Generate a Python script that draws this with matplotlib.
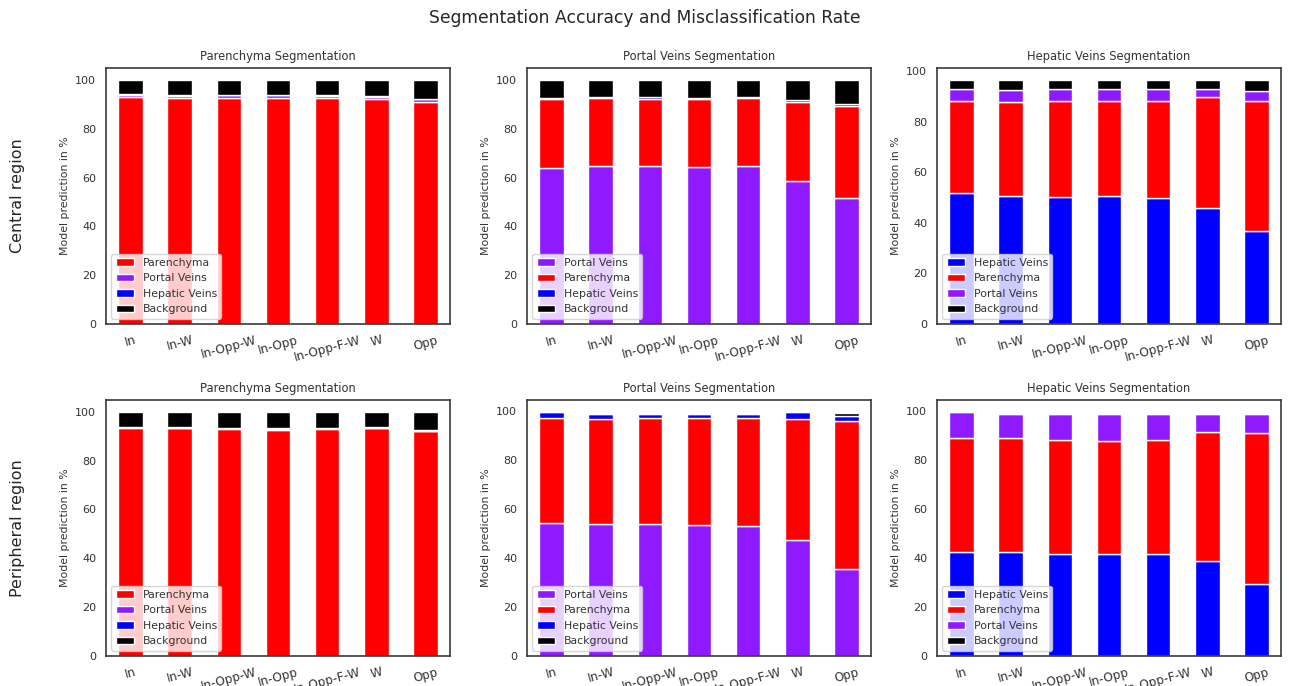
import matplotlib
matplotlib.use("Agg")
import matplotlib.pyplot as plt
import seaborn as sns
import pandas as pd

sns.set_style("white")

categories = ["In", "In-W", "In-Opp-W", "In-Opp", "In-Opp-F-W", "W", "Opp"]

# central region
c_par_par = [93.0, 92.6, 92.6, 92.6, 92.6, 92.2, 91.1]
c_par_pv = [1.0, 1.0, 1.2, 1.2, 1.0, 1.0, 1.0]
c_par_hv = [0.4, 0.3, 0.3, 0.3, 0.3, 0.5, 0.3]
c_par_bg = [5.6, 6.1, 5.9, 5.9, 6.1, 6.3, 7.6]

c_pv_pv = [64.0, 65.0, 65.0, 64.5, 64.8, 58.5, 51.5]
c_pv_par = [28.2, 27.8, 27.4, 27.7, 27.8, 32.6, 37.9]
c_pv_hv = [0.6, 0.4, 0.6, 0.5, 0.6, 0.6, 0.7]
c_pv_bg = [7.2, 6.8, 7.0, 7.3, 6.8, 8.3, 9.9]

c_hv_hv = [52.0, 50.5, 50.3, 50.8, 50.0, 45.8, 36.8]
c_hv_par = [36.2, 37.3, 37.8, 37.3, 38.4, 44.2, 51.6]
c_hv_pv = [4.9, 4.9, 5.0, 5.0, 4.7, 3.1, 3.9]
c_hv_bg = [3.4, 3.8, 3.4, 3.4, 3.4, 3.4, 4.2]

# peripheral region
p_par_par = [93.2, 93.2, 93.0, 92.7, 93.0, 93.2, 91.9]
p_par_pv = [0.4, 0.3, 0.3, 0.4, 0.3, 0.3, 0.3]
p_par_hv = [0.2, 0.2, 0.2, 0.2, 0.2, 0.2, 0.2]
p_par_bg = [6.0, 6.1, 6.3, 6.5, 6.3, 6.1, 7.4]

p_pv_pv = [54.5, 54.0, 53.8, 53.5, 53.3, 47.3, 35.5]
p_pv_par = [42.8, 43.0, 43.5, 43.6, 44.0, 49.6, 60.5]
p_pv_hv = [2.2, 2.0, 1.7, 1.9, 1.7, 2.6, 2.1]
p_pv_bg = [0.1, 0.1, 0.1, 0.1, 0.1, 0.1, 1.3]

p_hv_hv = [42.5, 42.5, 41.8, 41.5, 41.8, 39.0, 29.5]
p_hv_par = [46.4, 46.4, 46.6, 46.3, 46.6, 52.5, 61.6]
p_hv_pv = [10.6, 10.1, 10.6, 11.2, 10.6, 7.5, 7.7]
p_hv_bg = [0.1, 0.1, 0.1, 0.1, 0.1, 0.1, 0.6]

RED = "#ff0000"
PURPLE = "#8f1aff"
BLUE = "#0000ff"
BLACK = "#000000"


def make_df(cols):
    return pd.DataFrame(dict(cols), index=categories)


panels = [
    ("Parenchyma Segmentation", make_df([("Parenchyma", c_par_par), ("Portal Veins", c_par_pv),
                                         ("Hepatic Veins", c_par_hv), ("Background", c_par_bg)]),
     [RED, PURPLE, BLUE, BLACK]),
    ("Portal Veins Segmentation", make_df([("Portal Veins", c_pv_pv), ("Parenchyma", c_pv_par),
                                           ("Hepatic Veins", c_pv_hv), ("Background", c_pv_bg)]),
     [PURPLE, RED, BLUE, BLACK]),
    ("Hepatic Veins Segmentation", make_df([("Hepatic Veins", c_hv_hv), ("Parenchyma", c_hv_par),
                                            ("Portal Veins", c_hv_pv), ("Background", c_hv_bg)]),
     [BLUE, RED, PURPLE, BLACK]),
    ("Parenchyma Segmentation", make_df([("Parenchyma", p_par_par), ("Portal Veins", p_par_pv),
                                         ("Hepatic Veins", p_par_hv), ("Background", p_par_bg)]),
     [RED, PURPLE, BLUE, BLACK]),
    ("Portal Veins Segmentation", make_df([("Portal Veins", p_pv_pv), ("Parenchyma", p_pv_par),
                                           ("Hepatic Veins", p_pv_hv), ("Background", p_pv_bg)]),
     [PURPLE, RED, BLUE, BLACK]),
    ("Hepatic Veins Segmentation", make_df([("Hepatic Veins", p_hv_hv), ("Parenchyma", p_hv_par),
                                            ("Portal Veins", p_hv_pv), ("Background", p_hv_bg)]),
     [BLUE, RED, PURPLE, BLACK]),
]

W, H = 1289, 686
fig = plt.figure(figsize=(W / 100, H / 100), dpi=100)

lefts = [106, 527, 937]
bottoms = [324, 656]
aw, ah = 344, 256

for i, (title, df, colors) in enumerate(panels):
    row, col = divmod(i, 3)
    ax = fig.add_axes([lefts[col] / W, (H - bottoms[row]) / H, aw / W, ah / H])
    df.plot(kind="bar", stacked=True, ax=ax, color=colors, rot=15, width=0.5,
            edgecolor="white", linewidth=1)
    ax.set_title(title, fontsize=8.3, color="#333333")
    ax.set_ylabel("Model prediction in %", fontsize=7.8, color="#333333")
    ax.tick_params(axis="y", labelsize=8, colors="#333333")
    ax.tick_params(axis="x", labelsize=8.7, colors="#333333")
    for s in ax.spines.values():
        s.set_edgecolor("#3a3a3a")
        s.set_linewidth(1.2)
    leg = ax.legend(loc="lower left", fontsize=7.8, handlelength=1.7)
    for t in leg.get_texts():
        t.set_color("#333333")

fig.text(0.5, 1 - 18 / H, "Segmentation Accuracy and Misclassification Rate",
         ha="center", va="center", fontsize=12.3)
fig.text(18 / W, 1 - 196 / H, "Central region", rotation=90, ha="center", va="center", fontsize=11.5)
fig.text(18 / W, 1 - 528 / H, "Peripheral region", rotation=90, ha="center", va="center", fontsize=11.5)

fig.savefig("out.png", dpi=100)
